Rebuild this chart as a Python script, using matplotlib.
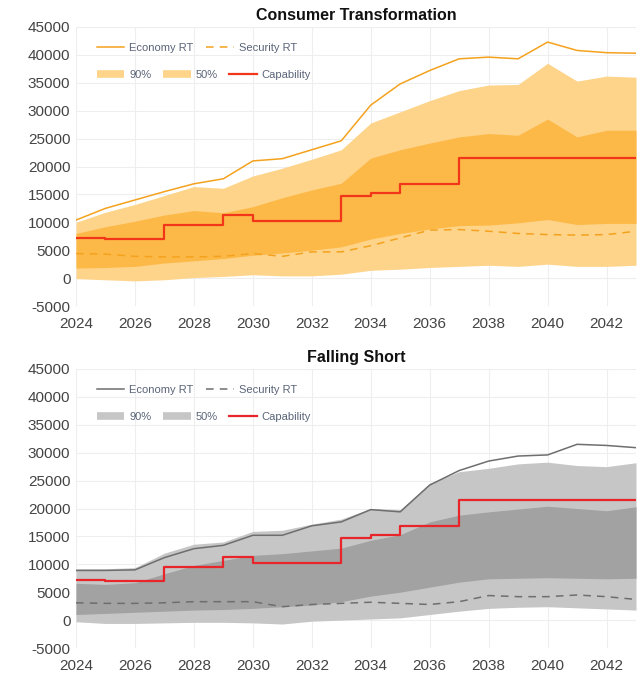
import matplotlib
matplotlib.use("Agg")
import matplotlib.pyplot as plt
from matplotlib.lines import Line2D
import numpy as np

plt.rcParams['font.family'] = ['Liberation Sans', 'DejaVu Sans']

years = list(range(2024, 2044))

# ---------- Consumer Transformation ----------
ct_economy = [10400, 12500, 14000, 15500, 16900, 17800, 21000, 21400, 23000, 24600,
              31000, 34800, 37200, 39300, 39600, 39300, 42300, 40800, 40400, 40300]
ct_security = [4400, 4300, 3900, 3800, 3800, 3900, 4400, 3900, 4700, 4700,
               5800, 7200, 8600, 8700, 8400, 8000, 7800, 7700, 7800, 8400]
ct_upper90 = [10000, 11800, 13200, 14800, 16400, 16100, 18300, 19700, 21300, 23000,
              27800, 29800, 31800, 33600, 34600, 34700, 38500, 35300, 36200, 36000]
ct_upper50 = [8000, 9200, 10200, 11300, 12100, 11700, 12800, 14400, 15800, 17000,
              21500, 23000, 24200, 25300, 25900, 25600, 28500, 25300, 26500, 26500]
ct_lower50 = [1800, 1900, 2100, 2700, 3100, 3500, 4100, 4500, 5000, 5600,
              7000, 8000, 8800, 9400, 9500, 9900, 10500, 9600, 9800, 9800]
ct_lower90 = [-100, -300, -500, -300, 100, 300, 600, 400, 400, 700,
              1400, 1600, 1900, 2100, 2300, 2100, 2500, 2100, 2100, 2300]

# ---------- Falling Short ----------
fs_economy = [8900, 8900, 9000, 11200, 12800, 13400, 15200, 15200, 16900, 17600,
              19800, 19400, 24200, 26800, 28500, 29400, 29600, 31500, 31300, 30900]
fs_security = [3100, 3000, 3000, 3100, 3300, 3300, 3300, 2400, 2800, 3000,
               3200, 3000, 2800, 3300, 4400, 4200, 4200, 4500, 4200, 3700]
fs_upper90 = [9200, 9200, 9400, 12000, 13600, 14000, 15900, 16100, 17200, 18100,
              20000, 19800, 24500, 26600, 27200, 28000, 28300, 27700, 27500, 28200]
fs_upper50 = [6600, 6400, 6700, 8300, 9800, 10700, 11600, 11900, 12400, 12900,
              14300, 15300, 17600, 18800, 19400, 19900, 20400, 20000, 19600, 20300]
fs_lower50 = [1000, 1200, 1400, 1600, 1800, 1900, 2100, 2400, 2700, 3300,
              4300, 5000, 5900, 6800, 7400, 7500, 7600, 7500, 7400, 7500]
fs_lower90 = [-300, -600, -600, -500, -400, -400, -500, -700, -200, 0,
              200, 400, 1000, 1600, 2100, 2300, 2400, 2200, 2000, 1800]

# ---------- Capability (shared, step) ----------
capability = [7200, 7000, 7000, 9600, 9600, 11300, 10200, 10200, 10200, 14700,
              15300, 16800, 16800, 21500, 21500, 21500, 21500, 21500, 21500, 21500]

titles = ["Consumer Transformation", "Falling Short"]
legend_labels = ["Economy RT", "Security RT", "90%", "50%", "Capability"]
x_ticks = list(range(2024, 2043, 2))
y_ticks = list(range(-5000, 45001, 5000))

W, H = 643, 675
fig = plt.figure(figsize=(W / 100, H / 100), dpi=100)

def frac_rect(x0, ytop, x1, ybot):
    return [x0 / W, 1 - ybot / H, (x1 - x0) / W, (ybot - ytop) / H]

panels = [
    dict(rect=frac_rect(76, 27, 636, 306), title=titles[0],
         eco=ct_economy, sec=ct_security, u90=ct_upper90, u50=ct_upper50,
         l50=ct_lower50, l90=ct_lower90,
         c90='#FDD48A', c50='#FDB947', line='#F4A21E', cap='#F2361A'),
    dict(rect=frac_rect(76, 369, 636, 648), title=titles[1],
         eco=fs_economy, sec=fs_security, u90=fs_upper90, u50=fs_upper50,
         l50=fs_lower50, l90=fs_lower90,
         c90='#C6C6C6', c50='#A2A2A2', line='#6E6E6E', cap='#E8252B'),
]

tick_color = '#444444'
leg_color = '#5A6478'

for p in panels:
    ax = fig.add_axes(p['rect'])
    ax.fill_between(years, p['l90'], p['u90'], color=p['c90'], lw=0, zorder=1)
    ax.fill_between(years, p['l50'], p['u50'], color=p['c50'], lw=0, zorder=2)
    ax.plot(years, p['eco'], color=p['line'], lw=1.1, zorder=3)
    ax.plot(years, p['sec'], color=p['line'], lw=1.1, ls=(0, (5, 4)), zorder=3)
    ax.step(years, capability, where='post', color=p['cap'], lw=1.6, zorder=4)

    ax.set_xlim(2024, 2043)
    ax.set_ylim(-5000, 45000)
    ax.set_xticks(x_ticks)
    ax.set_yticks(y_ticks)
    ax.set_xticklabels([str(t) for t in x_ticks])
    ax.set_yticklabels([str(t) for t in y_ticks])
    ax.tick_params(axis='both', length=0, labelsize=11, colors=tick_color)
    ax.tick_params(axis='y', pad=4)
    ax.tick_params(axis='x', pad=8)
    ax.grid(True, color='#EEEEEE', lw=0.8, zorder=0)
    ax.set_axisbelow(True)
    for s in ax.spines.values():
        s.set_visible(False)
    ax.set_title(p['title'], fontsize=11.5, fontweight='bold', color='#111111', pad=5)

    # legend row 1
    h1 = [Line2D([], [], color=p['line'], lw=1.1),
          Line2D([], [], color=p['line'], lw=1.1, ls=(0, (5, 4)))]
    leg1 = ax.legend(h1, legend_labels[:2], loc='center left',
                     bbox_to_anchor=(0.037, 0.925), ncol=2, frameon=False,
                     fontsize=8, handlelength=2.5, handletextpad=0.45,
                     columnspacing=1.1, borderpad=0, borderaxespad=0,
                     labelcolor=leg_color)
    ax.add_artist(leg1)
    # legend row 2
    h2 = [Line2D([], [], color=p['c90'], lw=5.5, solid_capstyle='butt'),
          Line2D([], [], color=p['c90'], lw=5.5, solid_capstyle='butt'),
          Line2D([], [], color=p['cap'], lw=1.6)]
    ax.legend(h2, legend_labels[2:], loc='center left',
              bbox_to_anchor=(0.037, 0.828), ncol=3, frameon=False,
              fontsize=8, handlelength=2.5, handletextpad=0.45,
              columnspacing=1.0, borderpad=0, borderaxespad=0,
              labelcolor=leg_color)

fig.savefig('out.png', dpi=100)
